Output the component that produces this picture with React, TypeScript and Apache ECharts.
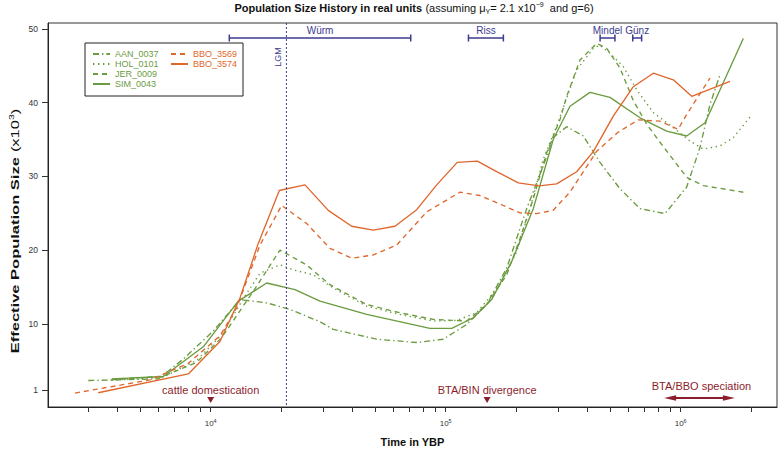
import React, { useEffect, useRef } from 'react';
import * as echarts from 'echarts';

// ---------- data (time in years before present, Ne in thousands) ----------
const AAN_T = [3014, 5984, 7644, 10260, 13330, 17310, 21750, 29180, 33230, 50860, 75260, 97680, 122900, 149500, 181800, 221100, 260200, 287000, 327300, 385100, 453600, 551700, 671000, 857500, 1060000, 1208000, 1332000, 1470000];
const AAN_NE = [2.34, 2.56, 5.25, 9.06, 13.3, 12.87, 11.97, 10.31, 9.28, 7.94, 7.49, 7.94, 9.95, 12.64, 17.57, 25.64, 31.46, 35.3, 36.75, 35.49, 31.91, 28.33, 25.64, 24.97, 28.55, 33.93, 39.75, 43.8];

const HOL_T = [3790, 6285, 8717, 11140, 14000, 16210, 19720, 22460, 27330, 33230, 46110, 63910, 88560, 111400, 135500, 170200, 200500, 228500, 260200, 296700, 360900, 424700, 453600, 500000, 569800, 649900, 764300, 930000, 1095000, 1248000, 1470000, 1674000, 1970000];
const HOL_NE = [2.38, 2.79, 5.07, 8.57, 13.8, 16.89, 18.02, 17.34, 16.67, 14.88, 12.42, 11.3, 10.41, 10.49, 11.52, 15.33, 19.82, 25.64, 32.36, 36.83, 44.45, 47.37, 47.81, 46.7, 44.9, 41.77, 38.67, 36.62, 34.82, 33.7, 34.15, 35.27, 38.04];

const JER_T = [3790, 6285, 8717, 11140, 15180, 19720, 25610, 32180, 46110, 63910, 88560, 122900, 149500, 181800, 207100, 235900, 269100, 306600, 327300, 372900, 439100, 484300, 551700, 628500, 716600, 816500, 1060000, 1248000, 1909000];
const JER_NE = [2.45, 2.92, 4.8, 8.16, 14.44, 20.03, 18.0, 15.33, 12.64, 11.52, 10.62, 10.41, 12.64, 16.67, 21.6, 27.0, 33.26, 37.74, 40.87, 45.8, 48.04, 47.37, 44.7, 40.3, 37.1, 34.64, 29.9, 28.77, 27.79];

const SIM_T = [3790, 6285, 9300, 13100, 17310, 22840, 29180, 46110, 85760, 106100, 131100, 156900, 190900, 235900, 287000, 338000, 411100, 500000, 671000, 871700, 1060000, 1270000, 1847000];
const SIM_NE = [2.56, 2.88, 6.91, 13.1, 15.56, 14.66, 13.1, 11.3, 9.41, 9.41, 10.85, 13.31, 18.47, 25.64, 35.05, 39.52, 41.4, 40.73, 37.96, 36.16, 35.49, 37.29, 48.7];

const BBO69_T = [2646, 5516, 8030, 10950, 12900, 16210, 20050, 25610, 32180, 39810, 49190, 61860, 83000, 115100, 139900, 173100, 207100, 243900, 286100, 338000, 439100, 541000, 658200, 816500, 974000, 1060000, 1332000];
const BBO69_NE = [0.64, 2.42, 4.67, 8.39, 12.2, 20.7, 26.08, 23.62, 20.26, 18.92, 19.36, 20.7, 25.2, 27.88, 27.42, 26.17, 25.06, 24.97, 25.4, 27.88, 33.43, 35.99, 37.67, 37.5, 36.39, 38.4, 43.34];

const BBO74_T = [3323, 8030, 10950, 13330, 15940, 19590, 25190, 31650, 39810, 49190, 60850, 75260, 91550, 112000, 136300, 164800, 203700, 249500, 296700, 360900, 424700, 516700, 628500, 764300, 930000, 1114000, 1621000];
const BBO74_NE = [0.68, 3.23, 7.63, 13.54, 20.93, 28.1, 28.86, 25.41, 23.26, 22.72, 23.26, 25.5, 28.86, 31.91, 32.09, 30.65, 29.13, 28.73, 29.0, 30.65, 33.37, 38.18, 42.17, 44.0, 43.1, 40.87, 42.88];

const SERIES_NAMES = ['AAN_0037', 'HOL_0101', 'JER_0009', 'SIM_0043', 'BBO_3569', 'BBO_3574'];

const X_TICKS = [3000, 4000, 5000, 6000, 7000, 8000, 9000, 10000, 20000, 30000, 40000, 50000, 60000, 70000, 80000, 90000, 100000, 200000, 300000, 400000, 500000, 600000, 700000, 800000, 900000, 1000000, 2000000];
const X_LABELS = [10000, 100000, 1000000];
const Y_TICKS = [1, 10, 20, 30, 40, 50];

const PERIOD_NAMES = ['Würm', 'Riss', 'Mindel', 'Günz'];
const PERIOD_START = [12000, 125000, 454000, 625000];
const PERIOD_END = [71000, 176000, 525000, 682000];

const LGM_TIME = [21000];

const EVENT_NAMES = ['cattle domestication', 'BTA/BIN divergence', 'BTA/BBO speciation'];
const EVENT_START = [10000, 150000, 850000];
const EVENT_END = [10000, 150000, 1700000];

// ---------- styles ----------
const GREEN = '#6b9b3f';
const ORANGE = '#e0672c';
const NAVY = '#3b3b8f';
const DARKRED = '#8c1d2c';
const FONT = '"Liberation Sans", Arial, Helvetica, sans-serif';

const lx = (t: number) => Math.log10(t);
const X_MIN = 3.3077;
const X_MAX = 6.4098;
const Y_MIN = -1.25;
const Y_MAX = 50.81;

const DASH = [5, 4];
const DOT = [1.4, 3.6];
const DOTDASH = [6, 3, 1.4, 3];

function mk(name: string, T: number[], NE: number[], color: string, type: any) {
  return {
    type: 'line',
    name,
    data: T.map((t, i) => [lx(t), NE[i]]),
    symbol: 'none',
    showSymbol: false,
    silent: true,
    lineStyle: { color, width: 1.35, type },
    itemStyle: { color },
    z: 3,
  };
}

const centered = { align: 'center', verticalAlign: 'middle', textAlign: 'center', textVerticalAlign: 'middle' };

export default function App() {
  const ref = useRef<HTMLDivElement>(null);
  useEffect(() => {
    if (!ref.current) return;
    const chart = echarts.init(ref.current, null, { renderer: 'svg' });
    const option: any = {
      animation: false,
      backgroundColor: '#fff',
      textStyle: { fontFamily: FONT },
      grid: { left: 48, right: 3, top: 23, bottom: 42, show: true, borderColor: '#333', borderWidth: 1 },
      graphic: [
        {
          type: 'text',
          x: 414,
          y: 8,
          silent: true,
          style: {
            ...centered,
            text: '{b|Population Size History in real units} {n|(assuming μ}{sub|Y}{n|= 2.1 x10}{sup|−9}{n|  and g=6)}',
            fill: '#111',
            rich: {
              b: { fontWeight: 'bold', fontSize: 11, fontFamily: FONT, fill: '#111', lineHeight: 14 },
              n: { fontSize: 11, fontFamily: FONT, fill: '#111', lineHeight: 14 },
              sub: { fontSize: 7, fontFamily: FONT, fill: '#111', verticalAlign: 'bottom', lineHeight: 9, padding: [3, 0, 0, 0] },
              sup: { fontSize: 7, fontFamily: FONT, fill: '#111', verticalAlign: 'top', lineHeight: 9, padding: [0, 0, 3, 0] },
            },
          },
        },
        {
          type: 'text',
          x: 15,
          y: 231,
          rotation: Math.PI / 2,
          scaleX: 1.5,
          silent: true,
          style: {
            ...centered,
            text: '{b|Effective Population Size} {n|(x10}{s|3}{n|)}',
            fill: '#111',
            rich: {
              b: { fontWeight: 'bold', fontSize: 11, fontFamily: FONT, fill: '#111', lineHeight: 14 },
              n: { fontSize: 11, fontFamily: FONT, fill: '#111', lineHeight: 14 },
              s: { fontSize: 7, fontFamily: FONT, fill: '#111', verticalAlign: 'top', lineHeight: 9, padding: [0, 0, 3, 0] },
            },
          },
        },
      ],
      legend: {
        orient: 'vertical',
        left: 85,
        top: 43,
        height: 41,
        itemGap: 0,
        itemWidth: 17,
        itemHeight: 10,
        padding: [6, 5, 7, 7],
        borderColor: '#222',
        borderWidth: 1,
        backgroundColor: '#fff',
        selectedMode: false,
        itemStyle: { opacity: 0 },
        textStyle: { fontSize: 9, fontFamily: FONT, lineHeight: 10 },
        data: SERIES_NAMES.map((n, i) => ({
          name: n,
          textStyle: { color: i < 4 ? GREEN : ORANGE, width: i < 4 ? 55 : 45, fontSize: 9, fontFamily: FONT },
        })),
      },
      xAxis: {
        type: 'value',
        min: X_MIN,
        max: X_MAX,
        axisLine: { show: true, onZero: false, lineStyle: { color: '#222', width: 1 } },
        axisTick: { show: true, length: 5, customValues: X_TICKS.map(lx), lineStyle: { color: '#333' } },
        axisLabel: {
          customValues: X_LABELS.map(lx),
          formatter: (v: number) => '10{s|' + Math.round(v) + '}',
          margin: 11,
          color: '#333',
          fontSize: 8,
          fontFamily: FONT,
          rich: { s: { fontSize: 5.5, fontFamily: FONT, color: '#333', verticalAlign: 'top', padding: [0, 0, 4, 0] } },
        },
        splitLine: { show: false },
        name: 'Time in YBP',
        nameLocation: 'middle',
        nameGap: 29,
        nameTextStyle: { fontWeight: 'bold', fontSize: 11, color: '#111', fontFamily: FONT },
      },
      yAxis: {
        type: 'value',
        min: Y_MIN,
        max: Y_MAX,
        axisLine: { show: true, onZero: false, lineStyle: { color: '#222', width: 1 } },
        axisTick: { show: true, length: 6, customValues: Y_TICKS, lineStyle: { color: '#333' } },
        axisLabel: { customValues: Y_TICKS, margin: 10, color: '#333', fontSize: 8.5, fontFamily: FONT },
        splitLine: { show: false },
      },
      series: [
        mk('AAN_0037', AAN_T, AAN_NE, GREEN, DOTDASH),
        mk('HOL_0101', HOL_T, HOL_NE, GREEN, DOT),
        mk('JER_0009', JER_T, JER_NE, GREEN, DASH),
        mk('SIM_0043', SIM_T, SIM_NE, GREEN, 'solid'),
        mk('BBO_3569', BBO69_T, BBO69_NE, ORANGE, DASH),
        mk('BBO_3574', BBO74_T, BBO74_NE, ORANGE, 'solid'),
        {
          type: 'custom',
          name: 'periods',
          silent: true,
          z: 5,
          data: PERIOD_START.map((s, i) => [lx(s), lx(PERIOD_END[i])]),
          renderItem: (params: any, api: any) => {
            const a = api.coord([api.value(0), 0]);
            const b = api.coord([api.value(1), 0]);
            const y = params.coordSys.y + 15;
            const st = { stroke: NAVY, lineWidth: 1.5 };
            return {
              type: 'group',
              children: [
                { type: 'line', shape: { x1: a[0], y1: y, x2: b[0], y2: y }, style: st },
                { type: 'line', shape: { x1: a[0], y1: y - 3.5, x2: a[0], y2: y + 3.5 }, style: st },
                { type: 'line', shape: { x1: b[0], y1: y - 3.5, x2: b[0], y2: y + 3.5 }, style: st },
                {
                  type: 'text',
                  x: (a[0] + b[0]) / 2,
                  y: y - 8,
                  style: { ...centered, text: PERIOD_NAMES[params.dataIndex], fill: NAVY, fontSize: 10, fontFamily: FONT },
                },
              ],
            };
          },
        },
        {
          type: 'custom',
          name: 'lgm',
          silent: true,
          z: 4,
          data: LGM_TIME.map((t) => [lx(t)]),
          renderItem: (params: any, api: any) => {
            const p = api.coord([api.value(0), 0]);
            const cs = params.coordSys;
            return {
              type: 'group',
              children: [
                { type: 'line', shape: { x1: p[0], y1: cs.y, x2: p[0], y2: cs.y + cs.height }, style: { stroke: NAVY, lineWidth: 1, lineDash: [2, 2] } },
                {
                  type: 'text',
                  x: p[0] - 8,
                  y: cs.y + 34,
                  rotation: Math.PI / 2,
                  style: { ...centered, text: 'LGM', fill: NAVY, fontSize: 9, fontFamily: FONT },
                },
              ],
            };
          },
        },
        {
          type: 'custom',
          name: 'events',
          silent: true,
          z: 5,
          data: EVENT_START.map((s, i) => [lx(s), lx(EVENT_END[i])]),
          renderItem: (params: any, api: any) => {
            const a = api.coord([api.value(0), 0]);
            const b = api.coord([api.value(1), 0]);
            const cs = params.coordSys;
            const bottom = cs.y + cs.height;
            const isRange = b[0] - a[0] > 1;
            const cx = (a[0] + b[0]) / 2;
            const children: any[] = [];
            if (!isRange) {
              const y = bottom - 7;
              children.push({
                type: 'polygon',
                shape: { points: [[cx - 3.5, y - 3], [cx + 3.5, y - 3], [cx, y + 3]] },
                style: { fill: DARKRED },
              });
            } else {
              const y = bottom - 9;
              children.push({ type: 'line', shape: { x1: a[0] + 6, y1: y, x2: b[0] - 6, y2: y }, style: { stroke: DARKRED, lineWidth: 2 } });
              children.push({ type: 'polygon', shape: { points: [[a[0], y], [a[0] + 12, y - 2.8], [a[0] + 12, y + 2.8]] }, style: { fill: DARKRED } });
              children.push({ type: 'polygon', shape: { points: [[b[0], y], [b[0] - 12, y - 2.8], [b[0] - 12, y + 2.8]] }, style: { fill: DARKRED } });
            }
            children.push({
              type: 'text',
              x: cx + (isRange ? 2 : 0),
              y: bottom - (isRange ? 21 : 17.5),
              style: { ...centered, text: EVENT_NAMES[params.dataIndex], fill: DARKRED, fontSize: 11, fontFamily: FONT },
            });
            return { type: 'group', children };
          },
        },
      ],
    };
    chart.setOption(option);
    return () => chart.dispose();
  }, []);
  return <div ref={ref} style={{ position: 'fixed', left: 0, top: 0, width: 780, height: 452, background: '#fff' }} />;
}
